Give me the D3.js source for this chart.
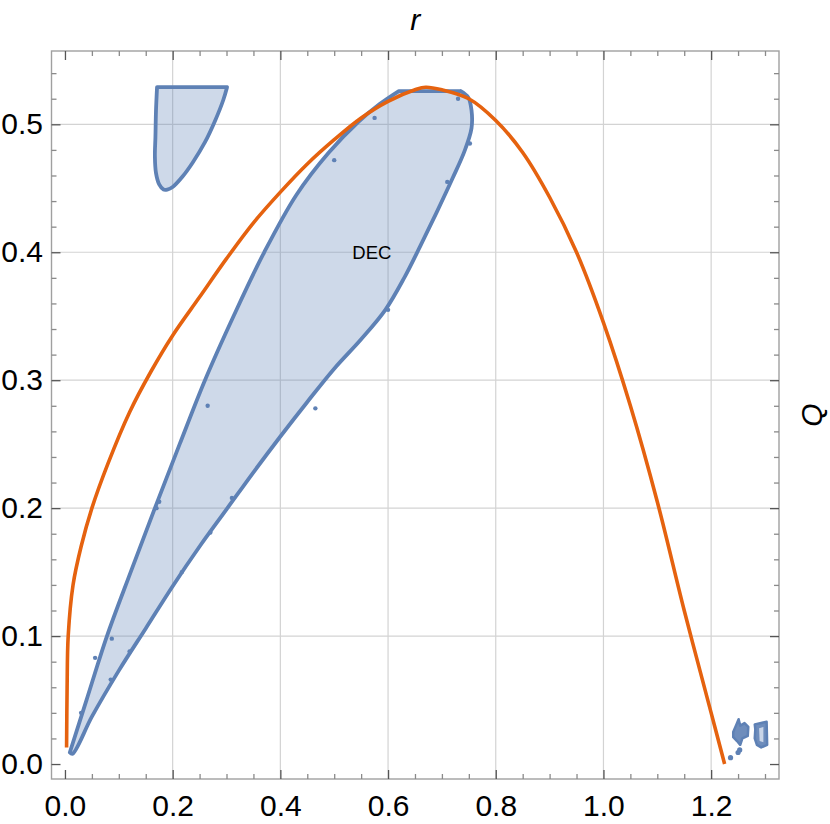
<!DOCTYPE html>
<html>
<head>
<meta charset="utf-8">
<script src="https://cdn.jsdelivr.net/npm/d3@7"></script>
<style>
  html,body{margin:0;padding:0;background:#fff;}
  svg{display:block;}
  text{font-family:"Liberation Sans", Arial, sans-serif;}
</style>
</head>
<body>
<svg id="chart" width="830" height="824"></svg>
<script>
// ---------------- data ----------------
const xDomain = [-0.025, 1.326];
const yDomain = [-0.0117, 0.5573];
const xMajorTicks = [0, 0.2, 0.4, 0.6, 0.8, 1.0, 1.2];
const yMajorTicks = [0, 0.1, 0.2, 0.3, 0.4, 0.5];
const xTickLabels = ["0.0", "0.2", "0.4", "0.6", "0.8", "1.0", "1.2"];
const yTickLabels = ["0.0", "0.1", "0.2", "0.3", "0.4", "0.5"];
const xMinorTicks = [0.05,0.1,0.15,0.25,0.3,0.35,0.45,0.5,0.55,0.65,0.7,0.75,0.85,0.9,0.95,1.05,1.1,1.15,1.25,1.3];
const yMinorTicks = [0.02,0.04,0.06,0.08,0.12,0.14,0.16,0.18,0.22,0.24,0.26,0.28,0.32,0.34,0.36,0.38,0.42,0.44,0.46,0.48,0.52,0.54];

// orange boundary curve
const orangeR = [0.003,0.004,0.006,0.015,0.03,0.05,0.08,0.12,0.16,0.2,0.25,0.3,0.35,0.4,0.45,0.5,0.55,0.6,0.65,0.67,0.7,0.75,0.8,0.85,0.9,0.95,1.0,1.05,1.1,1.15,1.2,1.225];
const orangeQ = [0.013,0.06,0.10,0.14,0.17,0.2,0.235,0.275,0.307,0.335,0.365,0.395,0.423,0.447,0.469,0.488,0.505,0.518,0.527,0.529,0.527,0.52,0.503,0.478,0.443,0.4,0.345,0.28,0.205,0.12,0.04,0.0];

// DEC region (main lobe), boundary going around
const decUpper = [[0.009,0.009],[0.04,0.05],[0.078,0.1],[0.122,0.15],[0.167,0.2],[0.213,0.25],[0.26,0.3],[0.313,0.35],[0.37,0.4],[0.43,0.445],[0.49,0.478],[0.545,0.502],[0.585,0.516],[0.62,0.526]];
const decTop = [[0.62,0.526],[0.735,0.526]];
const decRightLower = [[0.735,0.526],[0.749,0.521],[0.755,0.511],[0.755,0.497],[0.742,0.479],[0.72,0.458],[0.69,0.431],[0.66,0.405],[0.63,0.38],[0.595,0.355],[0.55,0.332],[0.5,0.309],[0.45,0.283],[0.4,0.256],[0.35,0.228],[0.3,0.199],[0.25,0.17],[0.2,0.139],[0.15,0.106],[0.1,0.073],[0.05,0.037],[0.014,0.008],[0.009,0.009]];

// small region top-left
const smallRegion = [[0.171,0.529],[0.169,0.51],[0.168,0.49],[0.167,0.475],[0.169,0.462],[0.175,0.453],[0.183,0.449],[0.19,0.449],[0.2,0.451],[0.218,0.459],[0.237,0.47],[0.26,0.486],[0.279,0.503],[0.294,0.519],[0.301,0.529]];

// small blobs near r=1.25
const blobA = [[1.241,0.025],[1.247,0.031],[1.251,0.035],[1.254,0.03],[1.262,0.032],[1.269,0.029],[1.268,0.022],[1.258,0.02],[1.254,0.015],[1.248,0.018],[1.241,0.021]];
const blobB = [[1.281,0.031],[1.303,0.033],[1.304,0.015],[1.293,0.013],[1.285,0.015],[1.281,0.02],[1.282,0.027]];
const blobBHole = [[1.289,0.028],[1.297,0.029],[1.297,0.017],[1.29,0.018]];
const blobDots = [[1.236,0.005],[1.25,0.009],[1.253,0.011]];

// small sampling marks along the DEC boundary
const edgeMarks = [[0.03,0.04],[0.056,0.083],[0.087,0.098],[0.17,0.2],[0.175,0.205],[0.265,0.28],[0.5,0.472],[0.575,0.505],[0.73,0.52],[0.752,0.485],[0.71,0.455],[0.6,0.355],[0.465,0.278],[0.31,0.208],[0.27,0.181],[0.217,0.15],[0.12,0.088],[0.085,0.066]];

const labelText = "DEC";
const labelPos = [0.57, 0.40];

// ---------------- drawing ----------------
const svg = d3.select("#chart");
const L = 51.5, R = 779, T = 51, B = 779;
const x = d3.scaleLinear().domain(xDomain).range([L, R]);
const y = d3.scaleLinear().domain(yDomain).range([B, T]);

const blue = "#5E81B5";
const orange = "#E5620F";

// grid
const grid = svg.append("g");
grid.selectAll("line.gx").data(xMajorTicks.filter(d => d !== 0)).join("line")
  .attr("x1", d => x(d)).attr("x2", d => x(d)).attr("y1", T).attr("y2", B)
  .attr("stroke", "#d3d3d3").attr("stroke-width", 1.2);
grid.selectAll("line.gy").data(yMajorTicks.filter(d => d !== 0)).join("line")
  .attr("y1", d => y(d)).attr("y2", d => y(d)).attr("x1", L).attr("x2", R)
  .attr("stroke", "#d3d3d3").attr("stroke-width", 1.2);

svg.append("clipPath").attr("id", "clip").append("rect")
  .attr("x", L).attr("y", T).attr("width", R - L).attr("height", B - T);
const plot = svg.append("g").attr("clip-path", "url(#clip)");

const poly = d3.line().x(d => x(d[0])).y(d => y(d[1]));
const smooth = d3.line().x(d => x(d[0])).y(d => y(d[1])).curve(d3.curveCatmullRom.alpha(0.5));

// DEC region
const decPath = smooth(decUpper) + "L" + decTop.slice(1).map(d => x(d[0]) + "," + y(d[1])).join("L")
  + smooth(decRightLower).replace(/^M/, "L") + "Z";
plot.append("path").attr("d", decPath)
  .attr("fill", blue).attr("fill-opacity", 0.3)
  .attr("stroke", blue).attr("stroke-width", 3.8).attr("stroke-linejoin", "round");

// small top-left region
plot.append("path").attr("d", smooth(smallRegion) + "Z")
  .attr("fill", blue).attr("fill-opacity", 0.3)
  .attr("stroke", blue).attr("stroke-width", 3.8).attr("stroke-linejoin", "round");

// boundary sampling marks
plot.selectAll("circle.mark").data(edgeMarks).join("circle")
  .attr("cx", d => x(d[0])).attr("cy", d => y(d[1])).attr("r", 2.2).attr("fill", blue);

// blobs
[blobA, blobB].forEach(b => {
  plot.append("path").attr("d", poly(b) + "Z")
    .attr("fill", blue).attr("fill-opacity", 0.9)
    .attr("stroke", blue).attr("stroke-width", 2.5).attr("stroke-linejoin", "round");
});
plot.append("path").attr("d", poly(blobBHole) + "Z").attr("fill", "#c9d5e8");
plot.selectAll("circle.dot").data(blobDots).join("circle")
  .attr("cx", d => x(d[0])).attr("cy", d => y(d[1])).attr("r", 2.6).attr("fill", blue);

// orange curve
const orangeData = orangeR.map((r, i) => [r, orangeQ[i]]);
plot.append("path").attr("d", smooth(orangeData))
  .attr("fill", "none").attr("stroke", orange).attr("stroke-width", 3.6);

// DEC label
svg.append("text").attr("x", x(labelPos[0])).attr("y", y(labelPos[1]))
  .attr("text-anchor", "middle").attr("dy", "0.35em")
  .attr("font-size", 18.5).attr("fill", "#000").text(labelText);

// frame
svg.append("rect").attr("x", L).attr("y", T).attr("width", R - L).attr("height", B - T)
  .attr("fill", "none").attr("stroke", "#a0a0a0").attr("stroke-width", 1.4);

// axes (ticks pointing inward)
function styleAxis(g, color) {
  g.select(".domain").remove();
  g.selectAll(".tick line").attr("stroke", color).attr("stroke-width", 1.3);
  g.selectAll(".tick text").attr("font-size", 30).attr("fill", "#000")
    .attr("font-family", "'Liberation Sans', Arial, sans-serif");
}
const xLabel = d => xTickLabels[xMajorTicks.indexOf(d)];
const yLabel = d => yTickLabels[yMajorTicks.indexOf(d)];

// bottom
svg.append("g").attr("transform", `translate(0,${B})`)
  .call(d3.axisBottom(x).tickValues(xMinorTicks).tickSize(-5).tickFormat(""))
  .call(g => styleAxis(g, "#8a8a8a"));
svg.append("g").attr("transform", `translate(0,${B})`)
  .call(d3.axisBottom(x).tickValues(xMajorTicks).tickSize(-9).tickPadding(15.5).tickFormat(xLabel))
  .call(g => styleAxis(g, "#555"));
// top
svg.append("g").attr("transform", `translate(0,${T})`)
  .call(d3.axisTop(x).tickValues(xMinorTicks).tickSize(-5).tickFormat(""))
  .call(g => styleAxis(g, "#8a8a8a"));
svg.append("g").attr("transform", `translate(0,${T})`)
  .call(d3.axisTop(x).tickValues(xMajorTicks).tickSize(-9).tickFormat(""))
  .call(g => styleAxis(g, "#555"));
// left
svg.append("g").attr("transform", `translate(${L},0)`)
  .call(d3.axisLeft(y).tickValues(yMinorTicks).tickSize(-5).tickFormat(""))
  .call(g => styleAxis(g, "#8a8a8a"));
svg.append("g").attr("transform", `translate(${L},0)`)
  .call(d3.axisLeft(y).tickValues(yMajorTicks).tickSize(-9).tickPadding(8.5).tickFormat(yLabel))
  .call(g => styleAxis(g, "#555"));
// right
svg.append("g").attr("transform", `translate(${R},0)`)
  .call(d3.axisRight(y).tickValues(yMinorTicks).tickSize(-5).tickFormat(""))
  .call(g => styleAxis(g, "#8a8a8a"));
svg.append("g").attr("transform", `translate(${R},0)`)
  .call(d3.axisRight(y).tickValues(yMajorTicks).tickSize(-9).tickFormat(""))
  .call(g => styleAxis(g, "#555"));

// axis titles
svg.append("text").attr("x", (L + R) / 2).attr("y", 30)
  .attr("text-anchor", "middle").attr("font-size", 30).attr("font-style", "italic")
  .text("r");
svg.append("text").attr("transform", `translate(822,${(T + B) / 2}) rotate(-90)`)
  .attr("text-anchor", "middle").attr("font-size", 30).attr("font-style", "italic")
  .text("Q");
</script>
</body>
</html>
